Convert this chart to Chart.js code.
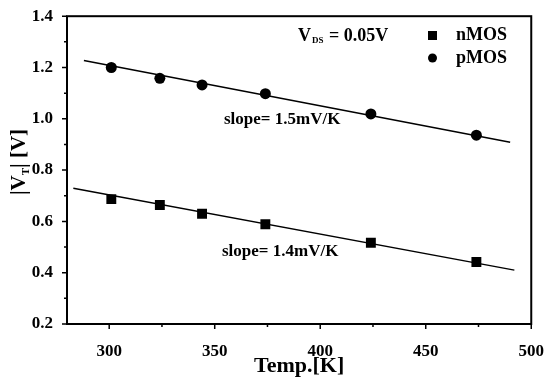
<!DOCTYPE html>
<html lang="en">
<head>
    <meta charset="UTF-8">
    <title>Threshold voltage vs temperature</title>
    <style>
        body {
            margin: 0;
            padding: 0;
            background-color: #fff;
        }
        .chart-container {
            width: 553px;
            height: 380px;
            position: relative;
        }
    </style>
    <script src="https://cdn.jsdelivr.net/npm/chart.js"></script>
</head>
<body>
    <div class="chart-container">
        <canvas id="vtChart"></canvas>
    </div>
    <script>
        // measured points
        const tempK = [301, 324, 344, 374, 424, 474];
        const nmosVt = [0.687, 0.664, 0.630, 0.589, 0.517, 0.442];
        const pmosVt = [1.200, 1.158, 1.132, 1.098, 1.019, 0.936];

        // linear fits (end points)
        const pmosFitT = [288, 490];
        const pmosFitVt = [1.227, 0.909];
        const nmosFitT = [283, 492];
        const nmosFitVt = [0.729, 0.410];

        const xTicks = [300, 350, 400, 450, 500];
        const xMinorTicks = [325, 375, 425, 475];
        const yTicks = [0.2, 0.4, 0.6, 0.8, 1.0, 1.2, 1.4];
        const yMinorTicks = [0.3, 0.5, 0.7, 0.9, 1.1, 1.3];

        const serif = '"Liberation Serif", "Times New Roman", serif';

        function pairs(xs, ys) {
            return xs.map((x, i) => ({ x: x, y: ys[i] }));
        }

        const decorPlugin = {
            id: 'decor',
            afterDraw(chart) {
                const ctx = chart.ctx;
                const a = chart.chartArea;
                const xs = chart.scales.x;
                const ys = chart.scales.y;
                ctx.save();
                ctx.strokeStyle = '#000';
                ctx.fillStyle = '#000';

                // frame
                ctx.lineWidth = 2;
                ctx.strokeRect(a.left, a.top, a.right - a.left, a.bottom - a.top);

                // ticks (outward)
                ctx.lineWidth = 1.5;
                ctx.beginPath();
                xTicks.forEach(v => {
                    const px = xs.getPixelForValue(v);
                    ctx.moveTo(px, a.bottom); ctx.lineTo(px, a.bottom + 5);
                });
                xMinorTicks.forEach(v => {
                    const px = xs.getPixelForValue(v);
                    ctx.moveTo(px, a.bottom); ctx.lineTo(px, a.bottom + 3);
                });
                yTicks.forEach(v => {
                    const py = ys.getPixelForValue(v);
                    ctx.moveTo(a.left, py); ctx.lineTo(a.left - 5, py);
                });
                yMinorTicks.forEach(v => {
                    const py = ys.getPixelForValue(v);
                    ctx.moveTo(a.left, py); ctx.lineTo(a.left - 3, py);
                });
                ctx.stroke();

                // y axis title: |V_T| [V]
                ctx.save();
                ctx.translate(20, 162);
                ctx.rotate(-Math.PI / 2);
                ctx.textBaseline = 'middle';
                ctx.textAlign = 'left';
                const big = 'bold 21px ' + serif;
                const small = 'bold 11px ' + serif;
                const parts = [['|V', big, 0], ['T', small, 6], ['| [V]', big, 0]];
                let total = 0;
                parts.forEach(p => { ctx.font = p[1]; total += ctx.measureText(p[0]).width; });
                let cx = -total / 2;
                parts.forEach(p => {
                    ctx.font = p[1];
                    ctx.fillText(p[0], cx, p[2]);
                    cx += ctx.measureText(p[0]).width;
                });
                ctx.restore();

                // V_DS label
                ctx.textBaseline = 'middle';
                ctx.textAlign = 'left';
                ctx.font = 'bold 18px ' + serif;
                ctx.fillText('V', 298, 36);
                let w = ctx.measureText('V').width;
                ctx.font = 'bold 9px ' + serif;
                ctx.fillText('DS', 298 + w + 1, 41);
                let w2 = ctx.measureText('DS').width;
                ctx.font = 'bold 18px ' + serif;
                ctx.fillText(' = 0.05V', 298 + w + w2 + 2, 36);

                // legend
                ctx.fillRect(428, 31, 9, 9);
                ctx.beginPath();
                ctx.arc(432.5, 58, 4.5, 0, Math.PI * 2);
                ctx.fill();
                ctx.fillText('nMOS', 456, 35);
                ctx.fillText('pMOS', 456, 58);

                // slope notes
                ctx.font = 'bold 17px ' + serif;
                ctx.fillText('slope= 1.5mV/K', 224, 120);
                ctx.fillText('slope= 1.4mV/K', 222, 252);

                ctx.restore();
            }
        };

        window.onload = function() {
            const vtCtx = document.getElementById('vtChart').getContext('2d');

            new Chart(vtCtx, {
                type: 'scatter',
                data: {
                    datasets: [
                        {
                            label: 'pMOS fit',
                            data: pairs(pmosFitT, pmosFitVt),
                            showLine: true,
                            borderColor: '#000',
                            borderWidth: 1.5,
                            pointRadius: 0
                        },
                        {
                            label: 'nMOS fit',
                            data: pairs(nmosFitT, nmosFitVt),
                            showLine: true,
                            borderColor: '#000',
                            borderWidth: 1.5,
                            pointRadius: 0
                        },
                        {
                            label: 'nMOS',
                            data: pairs(tempK, nmosVt),
                            pointStyle: 'rect',
                            pointRadius: 7,
                            backgroundColor: '#000',
                            borderColor: '#000',
                            borderWidth: 0
                        },
                        {
                            label: 'pMOS',
                            data: pairs(tempK, pmosVt),
                            pointStyle: 'circle',
                            pointRadius: 5.5,
                            backgroundColor: '#000',
                            borderColor: '#000',
                            borderWidth: 0
                        }
                    ]
                },
                options: {
                    responsive: true,
                    maintainAspectRatio: false,
                    animation: false,
                    layout: {
                        padding: { top: 6, right: 11, left: 0, bottom: 0 }
                    },
                    plugins: {
                        legend: { display: false },
                        tooltip: { enabled: false }
                    },
                    scales: {
                        x: {
                            type: 'linear',
                            min: 280,
                            max: 500,
                            grid: { display: false },
                            border: { display: false },
                            afterBuildTicks: s => { s.ticks = xTicks.map(v => ({ value: v })); },
                            afterFit: s => { s.height = 56; },
                            ticks: {
                                color: '#000',
                                padding: 9,
                                maxRotation: 0,
                                font: { family: serif, size: 17, weight: 'bold' }
                            },
                            title: {
                                display: true,
                                text: 'Temp.[K]',
                                color: '#000',
                                padding: { top: 0, bottom: 0 },
                                font: { family: serif, size: 22, weight: 'bold' }
                            }
                        },
                        y: {
                            min: 0.2,
                            max: 1.4,
                            grid: { display: false },
                            border: { display: false },
                            afterBuildTicks: s => { s.ticks = yTicks.map(v => ({ value: v })); },
                            afterFit: s => { s.width = 67; },
                            ticks: {
                                color: '#000',
                                padding: 6,
                                font: { family: serif, size: 17, weight: 'bold' },
                                callback: v => v.toFixed(1)
                            }
                        }
                    }
                },
                plugins: [decorPlugin]
            });
        };
    </script>
</body>
</html>
